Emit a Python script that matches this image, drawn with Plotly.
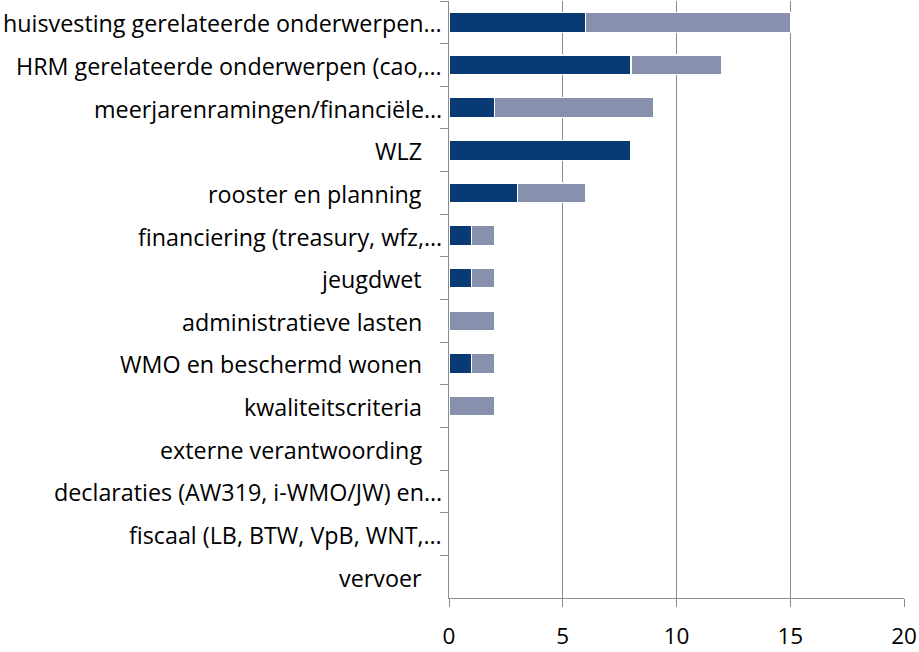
import plotly.graph_objects as go

categories = [
    "huisvesting gerelateerde onderwerpen…",
    "HRM gerelateerde onderwerpen (cao,…",
    "meerjarenramingen/financiële…",
    "WLZ",
    "rooster en planning",
    "financiering (treasury, wfz,…",
    "jeugdwet",
    "administratieve lasten",
    "WMO en beschermd wonen",
    "kwaliteitscriteria",
    "externe verantwoording",
    "declaraties (AW319, i-WMO/JW) en…",
    "fiscaal (LB, BTW, VpB, WNT,…",
    "vervoer",
]
series_a = [6, 8, 2, 8, 3, 1, 1, 0, 1, 0, 0, 0, 0, 0]
series_b = [9, 4, 7, 0, 3, 1, 1, 2, 1, 2, 0, 0, 0, 0]
x_ticks = [0, 5, 10, 15, 20]

FONT = "Open Sans"
LSIZE = 23.3
TSIZE = 22.5
DARK = "#083A73"
LIGHT = "#8790AD"
GRID = "#8C8C8C"

fig = go.Figure()
fig.add_trace(go.Bar(y=categories, x=series_a, orientation="h",
                     marker=dict(color=DARK, line=dict(color="white", width=1.2))))
fig.add_trace(go.Bar(y=categories, x=series_b, orientation="h",
                     marker=dict(color=LIGHT, line=dict(color="white", width=1.2))))

annotations = []
for c in categories:
    trunc = c.endswith("…")
    annotations.append(dict(x=0, y=c, xref="x", yref="y", text=c, showarrow=False,
                            xanchor="right", yanchor="middle",
                            xshift=-5 if trunc else -25, yshift=-1,
                            font=dict(family=FONT, size=LSIZE, color="#000000")))

fig.update_layout(
    barmode="stack",
    bargap=0.535,
    width=919, height=652,
    margin=dict(l=449, r=15, t=1, b=49),
    plot_bgcolor="white", paper_bgcolor="white",
    showlegend=False,
    annotations=annotations,
    font=dict(family=FONT, size=TSIZE, color="#000000"),
)
fig.update_xaxes(range=[0, 20], tickvals=x_ticks, showgrid=True, gridcolor=GRID, gridwidth=1.3,
                 showline=True, linecolor=GRID, linewidth=1.3, ticks="outside", ticklen=8,
                 tickcolor=GRID, tickwidth=1.3, zeroline=False, ticklabelstandoff=10,
                 tickfont=dict(family=FONT, size=TSIZE, color="#000000"))
fig.update_yaxes(autorange="reversed", showticklabels=False, tickson="boundaries",
                 ticks="outside", ticklen=8, tickcolor=GRID, tickwidth=1.3,
                 showline=True, linecolor=GRID, linewidth=1.3, showgrid=False)

fig.write_html("out.html", config={"displayModeBar": False},
               post_script="document.body.style.margin='0';document.body.style.overflow='hidden';")
